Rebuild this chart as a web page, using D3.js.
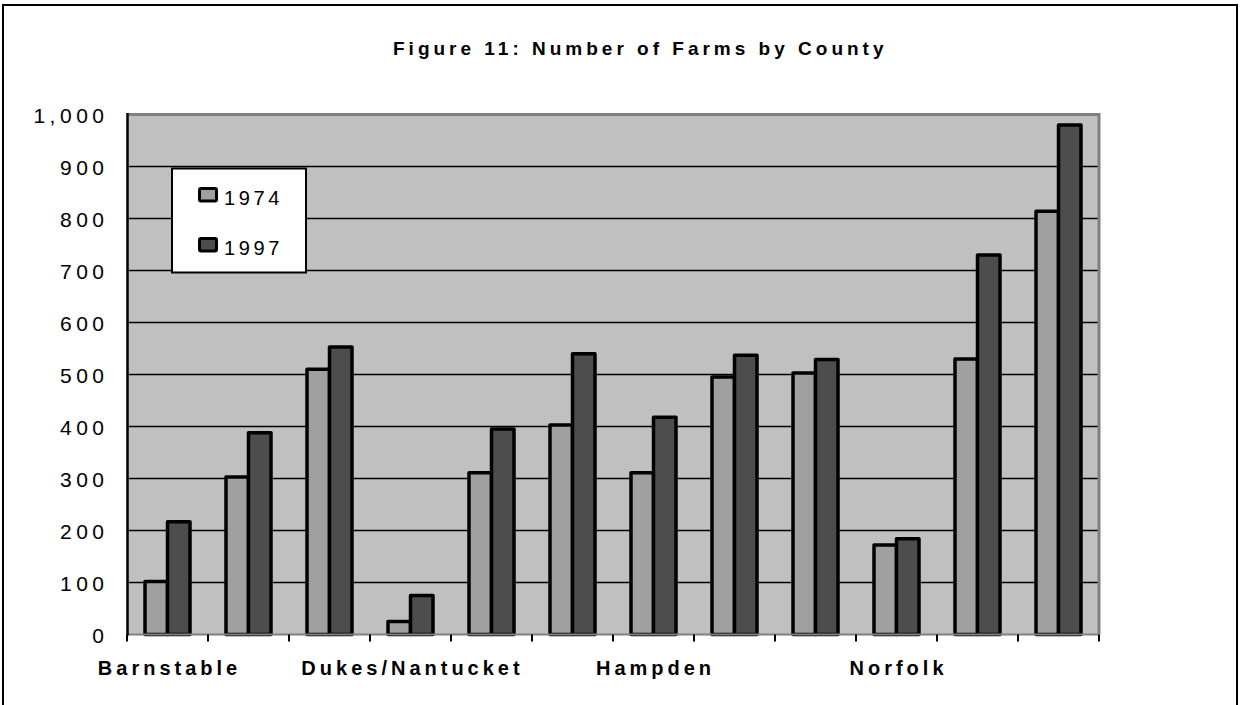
<!DOCTYPE html>
<html>
<head>
<meta charset="utf-8">
<script src="https://cdn.jsdelivr.net/npm/d3@7"></script>
<style>
  html, body { margin: 0; padding: 0; background: #fff; }
  svg text { font-family: "Liberation Sans", Arial, sans-serif; fill: #000; }
</style>
</head>
<body>
<svg id="chart" width="1241" height="705"></svg>
<script>
// ---- data ----
const titleText = "Figure 11: Number of Farms by County";
const counties = ["Barnstable", "Berkshire", "Bristol", "Dukes/Nantucket", "Essex", "Franklin",
                  "Hampden", "Hampshire", "Middlesex", "Norfolk", "Plymouth", "Worcester"];
const seriesNames = ["1974", "1997"];
const farms1974 = [102, 303, 510, 25, 311, 403, 311, 495, 503, 172, 530, 814];
const farms1997 = [217, 388, 553, 75, 395, 540, 418, 537, 529, 184, 730, 980];
const yTicks = [0, 100, 200, 300, 400, 500, 600, 700, 800, 900, 1000];
const labelEvery = 3;

const colors = { "1974": "#a0a0a0", "1997": "#4d4d4d" };

// ---- layout ----
const svg = d3.select("#chart");
const plot = { left: 127, right: 1099, top: 114.5, bottom: 634.5 };

// outer chart border
svg.append("rect")
  .attr("x", 3).attr("y", 5).attr("width", 1234).attr("height", 730)
  .attr("fill", "#fff").attr("stroke", "#000").attr("stroke-width", 2);

// title
svg.append("text")
  .attr("x", 393).attr("y", 55)
  .attr("font-size", 19).attr("font-weight", "bold")
  .style("letter-spacing", "4px")
  .text(titleText);

const x = d3.scaleBand().domain(counties).range([plot.left, plot.right]).padding(0);
const xs = d3.scaleBand().domain(seriesNames).range([0, x.bandwidth()]).paddingInner(0).paddingOuter(0.8);
const y = d3.scaleLinear().domain([0, 1000]).range([plot.bottom, plot.top]);

// plot background
svg.append("rect")
  .attr("x", plot.left).attr("y", plot.top)
  .attr("width", plot.right - plot.left).attr("height", plot.bottom - plot.top)
  .attr("fill", "#c0c0c0");

// gridlines
svg.append("g").selectAll("line")
  .data(yTicks.filter(d => d > 0 && d < 1000))
  .join("line")
  .attr("x1", plot.left).attr("x2", plot.right)
  .attr("y1", d => y(d)).attr("y2", d => y(d))
  .attr("stroke", "#000").attr("stroke-width", 1.6);

// top and right border of plot (gray)
svg.append("path")
  .attr("d", `M${plot.left},${plot.top}H${plot.right}V${plot.bottom}`)
  .attr("fill", "none").attr("stroke", "#808080").attr("stroke-width", 3);

// bars
const rows = counties.map((c, i) => ({ county: c, values: [
  { key: "1974", value: farms1974[i] },
  { key: "1997", value: farms1997[i] }
]}));

svg.append("g").selectAll("g")
  .data(rows)
  .join("g")
  .attr("transform", d => `translate(${x(d.county)},0)`)
  .selectAll("rect")
  .data(d => d.values)
  .join("rect")
  .attr("x", d => xs(d.key))
  .attr("width", xs.bandwidth())
  .attr("y", d => y(d.value))
  .attr("height", d => y(0) - y(d.value))
  .attr("fill", d => colors[d.key])
  .attr("stroke", "#000").attr("stroke-width", 3.5)
  .attr("stroke-linejoin", "round");

// x axis baseline (gray) and boundary ticks
svg.append("line")
  .attr("x1", plot.left).attr("x2", plot.right)
  .attr("y1", y(0)).attr("y2", y(0))
  .attr("stroke", "#808080").attr("stroke-width", 2);

const boundaries = counties.map(c => x(c)).concat([x(counties[counties.length - 1]) + x.bandwidth()]);
svg.append("g").selectAll("line")
  .data(boundaries)
  .join("line")
  .attr("x1", d => d).attr("x2", d => d)
  .attr("y1", y(0)).attr("y2", y(0) + 7)
  .attr("stroke", "#000").attr("stroke-width", 2);

// x labels
const xAxis = d3.axisBottom(x)
  .tickSize(0)
  .tickFormat((d, i) => (i % labelEvery === 0 ? d : ""));
const gx = svg.append("g").attr("transform", `translate(0,${y(0)})`).call(xAxis);
gx.select(".domain").remove();
gx.selectAll("text")
  .attr("font-size", 20).attr("font-weight", "bold")
  .style("font-family", "'Liberation Sans', Arial, sans-serif")
  .style("letter-spacing", "4px")
  .attr("dy", null).attr("y", 40.5).attr("dx", 2)
  .attr("fill", "#000");

// y axis labels
const yAxis = d3.axisLeft(y).tickValues(yTicks).tickSize(0).tickFormat(d3.format(","));
const gy = svg.append("g").attr("transform", `translate(${plot.left},0)`).call(yAxis);
gy.select(".domain").remove();
gy.selectAll("text")
  .attr("font-size", 21)
  .style("font-family", "'Liberation Sans', Arial, sans-serif")
  .style("letter-spacing", "4.5px")
  .attr("x", -18.5).attr("dy", "0.36em")
  .attr("fill", "#000");

// left axis line (black)
svg.append("line")
  .attr("x1", plot.left + 0.5).attr("x2", plot.left + 0.5)
  .attr("y1", plot.top - 1.5).attr("y2", plot.bottom + 1)
  .attr("stroke", "#000").attr("stroke-width", 2.5);

// legend
const legend = svg.append("g");
legend.append("rect")
  .attr("x", 172).attr("y", 168.5).attr("width", 134).attr("height", 104)
  .attr("fill", "#fff").attr("stroke", "#000").attr("stroke-width", 2);
const legendRows = legend.selectAll("g.item")
  .data(seriesNames)
  .join("g").attr("class", "item")
  .attr("transform", (d, i) => `translate(0,${i * 50})`);
legendRows.append("rect")
  .attr("x", 199.5).attr("y", 188.5).attr("width", 17).attr("height", 12.5)
  .attr("rx", 1.5)
  .attr("fill", d => colors[d])
  .attr("stroke", "#000").attr("stroke-width", 3);
legendRows.append("text")
  .attr("x", 224).attr("y", 205)
  .attr("font-size", 20)
  .style("letter-spacing", "3.6px")
  .text(d => d);
</script>
</body>
</html>
